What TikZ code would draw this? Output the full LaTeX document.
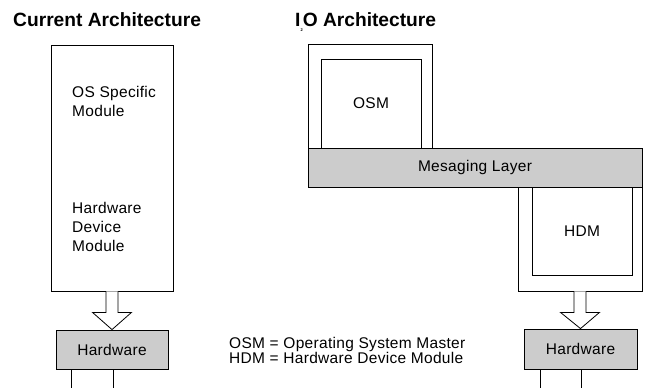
\documentclass[tikz,border=0pt]{standalone}
\usepackage{fontspec}
\setmainfont{Liberation Sans}
\usetikzlibrary{calc}
\begin{document}
\begin{tikzpicture}[x=1pt, y=-1pt,
  box/.style={draw, line width=0.8pt, rectangle, inner sep=0pt},
  grey/.style={box, fill=black!20},
  lbl/.style={font=\fontsize{15.5}{19}\selectfont\addfontfeature{LetterSpace=2}},
  ttl/.style={font=\fontsize{19.2}{22}\selectfont\bfseries, anchor=base west, inner sep=0pt},
  wire/.style={line width=0.8pt},
  arr/.style={line width=0.8pt, fill=white}]

\useasboundingbox (0,0) rectangle (651,388);

% Titles
\node[ttl] (curttl) at (13,27) {Current Architecture};
\node[ttl] (ittl) at (295,27) {I\raisebox{-0.4ex}{\fontsize{4}{4}\selectfont 2}O Architecture};

% Current architecture, one big module
\node[box, minimum width=122, minimum height=246] (curbox) at (112,168) {};
\node[lbl, align=left, anchor=north west, inner sep=0pt] (osmod) at (72,86) {OS Specific\\Module};
\node[lbl, align=left, anchor=north west, inner sep=0pt] (hwmod) at (72,202) {Hardware\\Device\\Module};
\node[grey, lbl, minimum width=112, minimum height=39] (hwL) at (112,349.5) {Hardware};

% Hollow arrow down to the hardware
\draw[arr] ($(curbox.south)+(-6,0)$) -- ++(0,21) -- ++(-13.5,0) -- (hwL.north)
  -- ($(curbox.south)+(19.5,21)$) -- ++(-13.5,0) -- ($(curbox.south)+(6,0)$);

% Bus lines below
\coordinate (busL1) at (71,388);
\coordinate (busL2) at (113,388);
\draw[wire] (busL1 |- hwL.south) -- (busL1);
\draw[wire] (busL2 |- hwL.south) -- (busL2);

% I2O architecture, split modules
\node[box, minimum width=124, minimum height=104] (osmouter) at (370,96) {};
\node[box, lbl, minimum width=100, minimum height=89] (osm) at (371,103.5) {OSM};
\node[grey, lbl, minimum width=334, minimum height=39] (msg) at (475,167.5) {Mesaging Layer};
\node[box, minimum width=124, minimum height=104] (hdmouter) at (580,239) {};
\node[box, lbl, minimum width=100, minimum height=88] (hdm) at (582,231) {HDM};
\node[grey, lbl, minimum width=113, minimum height=40] (hwR) at (580.5,349) {Hardware};

\draw[arr] ($(hdmouter.south)+(-6,0)$) -- ++(0,21) -- ++(-13.5,0) -- (hwR.north)
  -- ($(hdmouter.south)+(19.5,21)$) -- ++(-13.5,0) -- ($(hdmouter.south)+(6,0)$);

\coordinate (busR1) at (540,388);
\coordinate (busR2) at (581,388);
\draw[wire] (busR1 |- hwR.south) -- (busR1);
\draw[wire] (busR2 |- hwR.south) -- (busR2);

% Legend
\node[align=left, anchor=north west, inner sep=0pt, font=\fontsize{15.5}{15.5}\selectfont\addfontfeature{LetterSpace=2}] (legend) at (229,337) {OSM = Operating System Master\\HDM = Hardware Device Module};
\end{tikzpicture}
\end{document}
